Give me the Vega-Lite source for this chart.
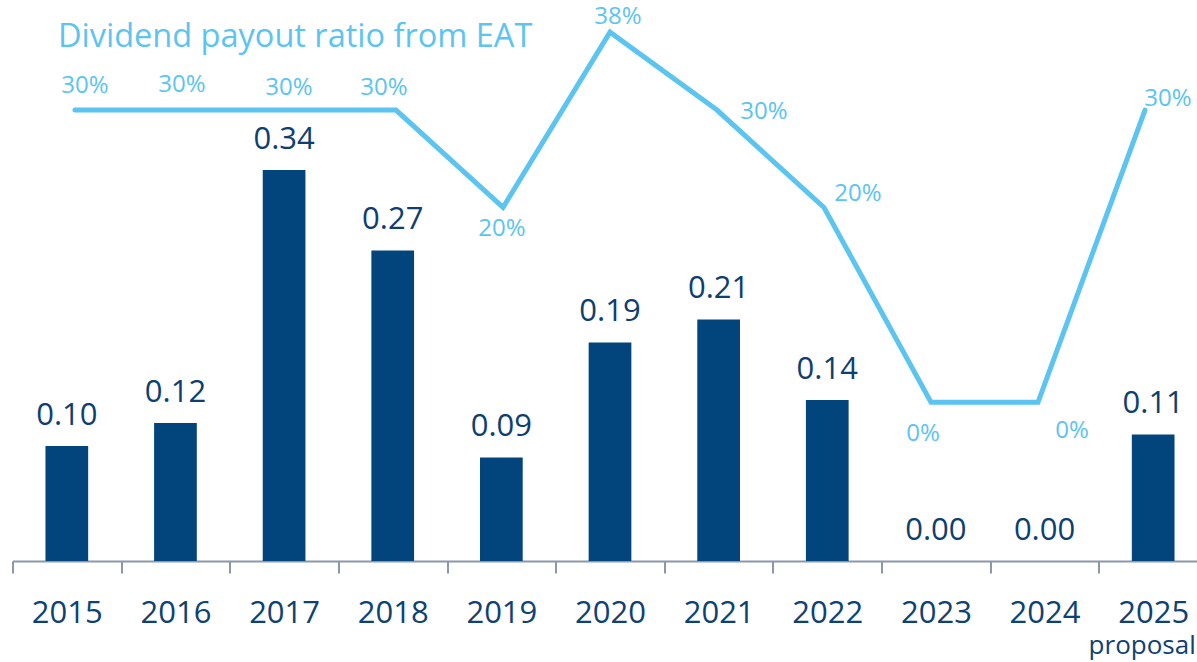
{
  "$schema": "https://vega.github.io/schema/vega-lite/v6.json",
  "width": 1195,
  "height": 561,
  "autosize": {"type": "none"},
  "padding": {"left": 12.5, "top": 0, "right": 0, "bottom": 101},
  "background": "white",
  "config": {"view": {"stroke": null}, "font": "Open Sans"},
  "title": {
    "text": "Dividend payout ratio from EAT",
    "anchor": "start",
    "frame": "group",
    "orient": "top",
    "offset": 0,
    "baseline": "alphabetic",
    "dx": 45.5,
    "dy": 79,
    "fontSize": 32.5,
    "font": "Open Sans",
    "fontWeight": "normal",
    "color": "#5BC4F1"
  },
  "data": {
    "values": [
      {"year": "2015", "dps": 0.10, "payout": 0.30, "note": ""},
      {"year": "2016", "dps": 0.12, "payout": 0.30, "note": ""},
      {"year": "2017", "dps": 0.34, "payout": 0.30, "note": ""},
      {"year": "2018", "dps": 0.27, "payout": 0.30, "note": ""},
      {"year": "2019", "dps": 0.09, "payout": 0.20, "note": ""},
      {"year": "2020", "dps": 0.19, "payout": 0.38, "note": ""},
      {"year": "2021", "dps": 0.21, "payout": 0.30, "note": ""},
      {"year": "2022", "dps": 0.14, "payout": 0.20, "note": ""},
      {"year": "2023", "dps": 0.00, "payout": 0.00, "note": ""},
      {"year": "2024", "dps": 0.00, "payout": 0.00, "note": ""},
      {"year": "2025", "dps": 0.11, "payout": 0.30, "note": "proposal"}
    ]
  },
  "resolve": {"scale": {"x": "independent", "y": "independent"}},
  "layer": [
    {
      "encoding": {
        "x": {
          "field": "year",
          "type": "ordinal",
          "scale": {"type": "band", "paddingInner": 0, "paddingOuter": 0},
          "axis": {
            "title": null,
            "labelAngle": 0,
            "tickBand": "extent",
            "domainColor": "#8C97AB",
            "domainWidth": 2,
            "tickColor": "#8C97AB",
            "tickWidth": 2,
            "tickSize": 12,
            "labelFontSize": 31,
            "labelFont": "Open Sans",
            "labelColor": "#0E4272",
            "labelBaseline": "alphabetic",
            "labelPadding": 49
          }
        }
      },
      "layer": [
        {
          "mark": {"type": "bar", "width": {"band": 0.393}, "color": "#01457C"},
          "encoding": {
            "y": {"field": "dps", "type": "quantitative", "scale": {"domain": [0, 0.4878], "nice": false, "zero": false}, "axis": null}
          }
        },
        {
          "mark": {"type": "text", "baseline": "alphabetic", "align": "center", "dy": -21, "fontSize": 31, "color": "#0E3F70"},
          "encoding": {
            "y": {"field": "dps", "type": "quantitative"},
            "text": {"field": "dps", "type": "quantitative", "format": ".2f"}
          }
        },
        {
          "transform": [{"filter": "datum.note != ''"}],
          "mark": {"type": "text", "baseline": "alphabetic", "align": "center", "dx": -11, "dy": 93, "fontSize": 26, "color": "#0E4272"},
          "encoding": {
            "y": {"datum": 0, "type": "quantitative"},
            "text": {"field": "note", "type": "nominal"}
          }
        }
      ]
    },
    {
      "encoding": {
        "x": {"field": "year", "type": "ordinal", "scale": {"type": "point", "padding": 0.584}, "axis": null},
        "y": {"field": "payout", "type": "quantitative", "scale": {"domain": [-0.163, 0.413], "nice": false, "zero": false}, "axis": null},
        "text": {"field": "payout", "type": "quantitative", "format": ".0%"}
      },
      "layer": [
        {"mark": {"type": "line", "color": "#5BC4F1", "strokeWidth": 5, "strokeCap": "round", "strokeJoin": "miter"}},
        {"transform": [{"filter": "datum.year == '2015'"}], "mark": {"type": "text", "fontSize": 24, "color": "#5BC4F1", "baseline": "middle", "dx": 10, "dy": -24}},
        {"transform": [{"filter": "datum.year == '2016'"}], "mark": {"type": "text", "fontSize": 24, "color": "#5BC4F1", "baseline": "middle", "dx": 0, "dy": -25}},
        {"transform": [{"filter": "datum.year == '2017'"}], "mark": {"type": "text", "fontSize": 24, "color": "#5BC4F1", "baseline": "middle", "dx": 0, "dy": -22}},
        {"transform": [{"filter": "datum.year == '2018'"}], "mark": {"type": "text", "fontSize": 24, "color": "#5BC4F1", "baseline": "middle", "dx": -12, "dy": -22}},
        {"transform": [{"filter": "datum.year == '2019'"}], "mark": {"type": "text", "fontSize": 24, "color": "#5BC4F1", "baseline": "middle", "dx": -1, "dy": 22}},
        {"transform": [{"filter": "datum.year == '2020'"}], "mark": {"type": "text", "fontSize": 24, "color": "#5BC4F1", "baseline": "middle", "dx": 8, "dy": -15}},
        {"transform": [{"filter": "datum.year == '2021'"}], "mark": {"type": "text", "fontSize": 24, "color": "#5BC4F1", "baseline": "middle", "dx": 47, "dy": 2}},
        {"transform": [{"filter": "datum.year == '2022'"}], "mark": {"type": "text", "fontSize": 24, "color": "#5BC4F1", "baseline": "middle", "dx": 34, "dy": -13}},
        {"transform": [{"filter": "datum.year == '2023'"}], "mark": {"type": "text", "fontSize": 24, "color": "#5BC4F1", "baseline": "middle", "dx": -8, "dy": 32}},
        {"transform": [{"filter": "datum.year == '2024'"}], "mark": {"type": "text", "fontSize": 24, "color": "#5BC4F1", "baseline": "middle", "dx": 34, "dy": 29}},
        {"transform": [{"filter": "datum.year == '2025'"}], "mark": {"type": "text", "fontSize": 24, "color": "#5BC4F1", "baseline": "middle", "dx": 23, "dy": -11}}
      ]
    }
  ]
}
